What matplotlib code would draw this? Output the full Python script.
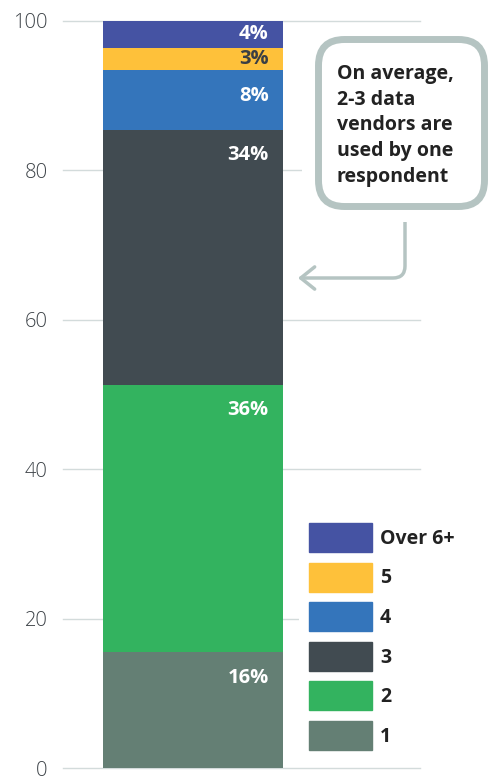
import matplotlib.pyplot as plt
from matplotlib.patches import FancyBboxPatch, Rectangle, Patch

plt.rcParams['font.family'] = ['Open Sans', 'DejaVu Sans']

# stacked segments, bottom to top
categories = ['1', '2', '3', '4', '5', 'Over 6+']
values = [15.5, 35.8, 34.1, 8.0, 3.0, 3.6]
labels = ['16%', '36%', '34%', '8%', '3%', '4%']
colors = ['#647f74', '#33b35f', '#414b51', '#3475bb', '#fec13a', '#4553a3']
label_colors = ['white', 'white', 'white', 'white', '#3a3f44', 'white']
yticks = [0, 20, 40, 60, 80, 100]
note = "On average,\n2-3 data\nvendors are\nused by one\nrespondent"

W, H = 491, 776
fig = plt.figure(figsize=(W / 100, H / 100), dpi=100)
ax = fig.add_axes([63 / W, (H - 768) / H, 357 / W, 747 / H])

bottom = 0
handles = []
for cat, v, lab, c, lc in zip(categories, values, labels, colors, label_colors):
    ax.bar(0, v, width=1, bottom=bottom, color=c, zorder=3)
    top = bottom + v
    off = min(v / 2, 3.4)
    ax.text(0.42, top - off, lab, ha='right', va='center', color=lc,
            fontsize=14.5, fontweight='bold', zorder=4)
    handles.append(Patch(color=c, label=cat))
    bottom = top

ax.set_xlim(-0.722, 1.261)
ax.set_ylim(0, 100)
ax.set_yticks(yticks)
ax.set_xticks([])
ax.yaxis.grid(True, color='#d3dbdb', lw=1, zorder=0)
for s in ax.spines.values():
    s.set_visible(False)
ax.tick_params(axis='y', length=0, pad=11, labelsize=14.5, labelcolor='#3d4348')
for t in ax.get_yticklabels():
    t.set_fontweight('light')
    t.set_clip_on(False)
for gl in ax.yaxis.get_gridlines():
    gl.set_clip_on(False)

# legend, top entry first
fs = 14
leg = fig.legend(handles=handles[::-1], loc='upper left',
                 bbox_to_anchor=(299 / W, 1 - 513 / H), bbox_transform=fig.transFigure,
                 frameon=True, fancybox=False, facecolor='white', edgecolor='none',
                 framealpha=1, borderpad=0.51, borderaxespad=0,
                 handlelength=3.24, handleheight=1.92, handletextpad=0.41,
                 labelspacing=0.545, prop={'weight': 'bold', 'size': fs})
for t in leg.get_texts():
    t.set_color('#222222')

# callout box (inch coords from bottom-left)
tr = fig.dpi_scale_trans
fig.patches.append(Rectangle((302 / 100, (H - 222) / 100), 190 / 100, 198 / 100,
                             transform=tr, facecolor='white', edgecolor='none', zorder=5))
fig.patches.append(FancyBboxPatch((318.5 / 100, (H - 206.5) / 100), 166 / 100, 167 / 100,
                                  boxstyle='round,pad=0,rounding_size=0.26',
                                  transform=tr, facecolor='white', edgecolor='#b5c4c2',
                                  lw=5, zorder=6))
fig.text(337 / W, 1 - 64 / H, note, ha='left', va='top', fontsize=14,
         fontweight='bold', color='#222222', linespacing=1.38, zorder=7)

ax.annotate('', xy=(298, H - 278), xycoords='figure pixels',
            xytext=(405, H - 210), textcoords='figure pixels',
            arrowprops=dict(arrowstyle='->,head_length=0.5,head_width=0.4',
                            connectionstyle='angle,angleA=-90,angleB=0,rad=12',
                            color='#b5c4c2', lw=2.5, mutation_scale=20,
                            shrinkA=0, shrinkB=0),
            zorder=7)

fig.savefig('out.png', dpi=100)
